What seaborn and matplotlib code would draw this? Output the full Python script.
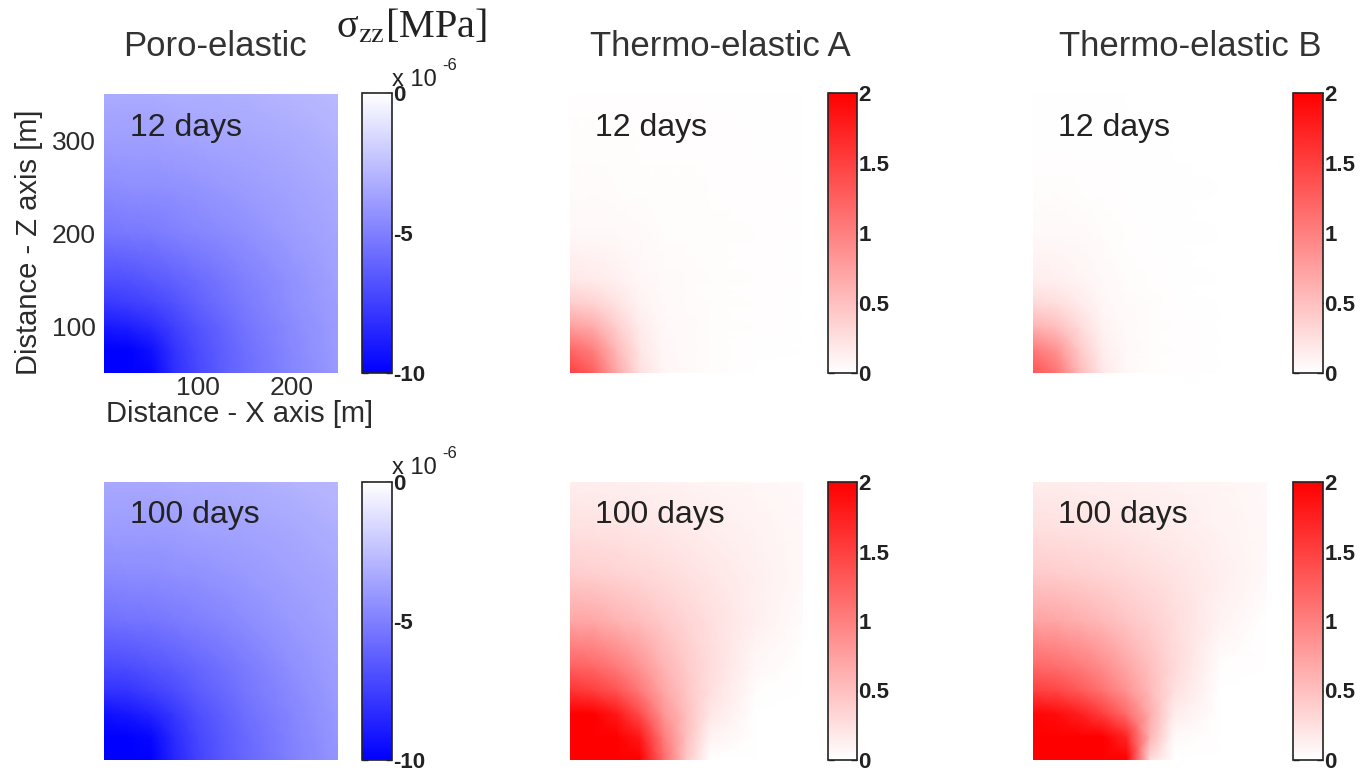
import matplotlib
matplotlib.use('Agg')

import numpy as np
import matplotlib.pyplot as plt
import seaborn as sns

X_M = [0, 25, 50, 75, 100, 125, 150, 200, 250]
Z_M = [50, 75, 100, 125, 150, 200, 250, 300, 350]

# poro-elastic sigma_zz, units of 1e-6 MPa (rows = Z_M, cols = X_M)
PORO_12 = [
    [-14.0, -12.0, -9.8, -8.2, -7.2, -6.4, -5.8, -4.8, -4.0],
    [-11.5, -10.8, -9.4, -8.0, -7.0, -6.3, -5.7, -4.7, -3.9],
    [-9.0, -8.8, -8.3, -7.5, -6.7, -6.1, -5.5, -4.6, -3.9],
    [-7.8, -7.6, -7.3, -6.8, -6.2, -5.7, -5.2, -4.4, -3.8],
    [-6.9, -6.8, -6.5, -6.2, -5.8, -5.4, -5.0, -4.3, -3.7],
    [-5.4, -5.3, -5.2, -5.0, -4.8, -4.6, -4.4, -3.9, -3.5],
    [-4.5, -4.4, -4.4, -4.3, -4.2, -4.05, -3.9, -3.6, -3.3],
    [-3.8, -3.8, -3.8, -3.7, -3.6, -3.55, -3.5, -3.3, -3.0],
    [-3.3, -3.3, -3.3, -3.2, -3.2, -3.15, -3.1, -2.9, -2.7],
]
PORO_100 = [
    [-14.5, -12.5, -10.2, -8.5, -7.4, -6.6, -6.0, -5.0, -4.2],
    [-12.0, -11.2, -9.7, -8.3, -7.2, -6.5, -5.9, -4.9, -4.1],
    [-9.4, -9.1, -8.6, -7.8, -6.9, -6.3, -5.7, -4.8, -4.0],
    [-8.0, -7.9, -7.5, -7.0, -6.4, -5.9, -5.4, -4.6, -3.9],
    [-7.1, -7.0, -6.7, -6.4, -6.0, -5.6, -5.2, -4.4, -3.8],
    [-5.6, -5.5, -5.4, -5.2, -5.0, -4.8, -4.5, -4.0, -3.6],
    [-4.6, -4.5, -4.5, -4.4, -4.3, -4.15, -4.0, -3.7, -3.4],
    [-3.9, -3.9, -3.9, -3.8, -3.7, -3.65, -3.6, -3.4, -3.1],
    [-3.4, -3.4, -3.4, -3.3, -3.3, -3.25, -3.2, -3.0, -2.8],
]

# thermo-elastic sigma_zz, MPa
THERMO_A_12 = [
    [1.5, 1.25, 0.7, 0.25, 0.08, 0.04, 0.03, 0.0, 0.0],
    [1.2, 1.0, 0.55, 0.2, 0.07, 0.04, 0.03, 0.01, 0.0],
    [0.75, 0.65, 0.38, 0.15, 0.06, 0.04, 0.03, 0.02, 0.0],
    [0.4, 0.35, 0.22, 0.1, 0.05, 0.035, 0.03, 0.02, 0.0],
    [0.18, 0.16, 0.12, 0.07, 0.04, 0.035, 0.03, 0.02, 0.01],
    [0.06, 0.06, 0.05, 0.04, 0.03, 0.03, 0.025, 0.02, 0.01],
    [0.035, 0.035, 0.03, 0.03, 0.025, 0.025, 0.02, 0.02, 0.01],
    [0.025, 0.025, 0.025, 0.02, 0.02, 0.02, 0.02, 0.015, 0.01],
    [0.02, 0.02, 0.02, 0.02, 0.02, 0.02, 0.015, 0.015, 0.01],
]
THERMO_B_12 = [
    [1.35, 1.1, 0.55, 0.18, 0.05, 0.03, 0.02, 0.0, 0.0],
    [1.05, 0.85, 0.42, 0.14, 0.05, 0.03, 0.02, 0.0, 0.0],
    [0.6, 0.5, 0.28, 0.1, 0.04, 0.03, 0.02, 0.0, 0.0],
    [0.3, 0.26, 0.16, 0.07, 0.035, 0.025, 0.015, 0.0, 0.0],
    [0.14, 0.12, 0.09, 0.05, 0.03, 0.02, 0.015, 0.0, 0.0],
    [0.05, 0.05, 0.04, 0.03, 0.02, 0.015, 0.01, 0.0, 0.0],
    [0.025, 0.025, 0.02, 0.02, 0.015, 0.01, 0.01, 0.0, 0.0],
    [0.015, 0.015, 0.015, 0.01, 0.01, 0.008, 0.005, 0.0, 0.0],
    [0.01, 0.01, 0.01, 0.01, 0.005, 0.003, 0.0, 0.0, 0.0],
]
THERMO_A_100 = [
    [3.0, 2.9, 2.6, 2.1, 1.2, 0.45, 0.0, 0.0, 0.0],
    [2.7, 2.6, 2.3, 1.8, 1.05, 0.5, 0.1, 0.0, 0.0],
    [2.1, 2.0, 1.8, 1.4, 0.85, 0.5, 0.2, 0.0, 0.0],
    [1.6, 1.5, 1.35, 1.05, 0.7, 0.45, 0.25, 0.02, 0.0],
    [1.25, 1.2, 1.05, 0.85, 0.6, 0.42, 0.28, 0.06, 0.0],
    [0.7, 0.68, 0.6, 0.52, 0.42, 0.33, 0.25, 0.12, 0.03],
    [0.4, 0.38, 0.35, 0.32, 0.28, 0.24, 0.2, 0.12, 0.06],
    [0.24, 0.23, 0.22, 0.2, 0.18, 0.16, 0.14, 0.1, 0.06],
    [0.14, 0.14, 0.13, 0.12, 0.11, 0.1, 0.09, 0.07, 0.05],
]
THERMO_B_100 = [
    [3.3, 3.2, 3.0, 2.7, 2.2, 0.3, 0.0, 0.0, 0.0],
    [2.8, 2.7, 2.5, 2.2, 1.7, 0.6, 0.05, 0.0, 0.0],
    [1.95, 1.9, 1.75, 1.5, 1.15, 0.65, 0.15, 0.0, 0.0],
    [1.5, 1.45, 1.3, 1.1, 0.85, 0.55, 0.25, 0.0, 0.0],
    [1.2, 1.15, 1.05, 0.9, 0.7, 0.5, 0.3, 0.02, 0.0],
    [0.72, 0.7, 0.63, 0.55, 0.46, 0.37, 0.28, 0.1, 0.0],
    [0.42, 0.4, 0.37, 0.34, 0.3, 0.26, 0.22, 0.13, 0.05],
    [0.25, 0.24, 0.23, 0.21, 0.19, 0.17, 0.15, 0.1, 0.06],
    [0.15, 0.15, 0.14, 0.13, 0.12, 0.11, 0.1, 0.08, 0.05],
]

TITLES = ["Poro-elastic", "Thermo-elastic A", "Thermo-elastic B"]
DAYS = ["12 days", "100 days"]
PORO_TICKS = [-10, -5, 0]
THERMO_TICKS = [0, 0.5, 1, 1.5, 2]
THERMO_LABELS = ["0", "0.5", "1", "1.5", "2"]

W, H = 1370, 771


def rect(l, t, r, b):
    return [l / W, 1 - b / H, (r - l) / W, (b - t) / H]


if __name__ == "__main__":
    sns.set_theme(style="white")
    plt.rcParams['font.family'] = ['Liberation Sans', 'DejaVu Sans']
    plt.rcParams['mathtext.fontset'] = 'stix'

    blues = sns.blend_palette(["#0000ff", "#ffffff"], as_cmap=True)
    reds = sns.blend_palette(["#ffffff", "#ff0000"], as_cmap=True)

    fields = [[PORO_12, THERMO_A_12, THERMO_B_12],
              [PORO_100, THERMO_A_100, THERMO_B_100]]
    heat_cols = [(104, 338), (570, 803), (1033, 1267)]
    cbar_cols = [(362, 392), (828, 857), (1293, 1323)]
    rows = [(94, 373), (482, 760)]
    cbar_rows = [(93, 373), (482, 760)]
    txt = '#2b2b2b'

    fig = plt.figure(figsize=(13.7, 7.71), dpi=100)

    for r in range(2):
        for c in range(3):
            ax = fig.add_axes(rect(heat_cols[c][0], rows[r][0], heat_cols[c][1], rows[r][1]))
            if c == 0:
                cmap, vmin, vmax = blues, -10, 0
            else:
                cmap, vmin, vmax = reds, 0, 2
            mesh = ax.pcolormesh(X_M, Z_M, np.array(fields[r][c]), shading='gouraud',
                                 cmap=cmap, vmin=vmin, vmax=vmax)
            ax.set_xlim(0, 250)
            ax.set_ylim(50, 350)
            for s in ax.spines.values():
                s.set_visible(False)
            if r == 0 and c == 0:
                ax.set_xticks([100, 200])
                ax.set_yticks([100, 200, 300])
                ax.tick_params(axis='x', length=0, pad=2, labelsize=19, labelcolor=txt)
                ax.tick_params(axis='y', length=0, pad=6, labelsize=19, labelcolor=txt)
                ax.set_xlabel("Distance - X axis [m]", fontsize=21, color=txt)
                ax.set_ylabel("Distance - Z axis [m]", fontsize=21, color=txt)
                ax.xaxis.set_label_coords(0.58, -0.095)
                ax.yaxis.set_label_coords(-0.26, 0.47)
            else:
                ax.set_xticks([])
                ax.set_yticks([])

            cax = fig.add_axes(rect(cbar_cols[c][0], cbar_rows[r][0], cbar_cols[c][1], cbar_rows[r][1]))
            cb = fig.colorbar(mesh, cax=cax)
            if c == 0:
                cb.set_ticks(PORO_TICKS)
                cb.set_ticklabels([str(t) for t in PORO_TICKS])
            else:
                cb.set_ticks(THERMO_TICKS)
                cb.set_ticklabels(THERMO_LABELS)
            cb.outline.set_edgecolor('#222222')
            cb.outline.set_linewidth(1.2)
            cax.tick_params(axis='y', direction='in', length=4, width=1, left=True, right=True,
                            labelsize=16, pad=1, colors='#222222')
            for lbl in cax.get_yticklabels():
                lbl.set_fontweight('bold')

            # day label
            dx = [130, 595, 1058][c]
            dy = [128, 515][r]
            fig.text(dx / W, 1 - dy / H, DAYS[r], fontsize=23, color='#222222',
                     ha='left', va='center')

        # multiplier above poro colorbar
        my = [80, 468][r]
        fig.text(392 / W, 1 - my / H, "x 10", fontsize=17, color='#222222',
                 ha='left', va='center')
        fig.text(442 / W, 1 - (my - 14) / H, "-6", fontsize=12, color='#222222',
                 ha='left', va='center')

    for c, cx in enumerate([215, 720, 1190]):
        fig.text(cx / W, 1 - 47 / H, TITLES[c], fontsize=25, color='#333333',
                 ha='center', va='center')

    fig.text(336 / W, 1 - 27 / H, "\u03c3$_{\\mathrm{zz}}$[MPa]", fontsize=29,
             family='Liberation Serif', color='#222222', ha='left', va='center')

    fig.savefig("out.png", dpi=100)
